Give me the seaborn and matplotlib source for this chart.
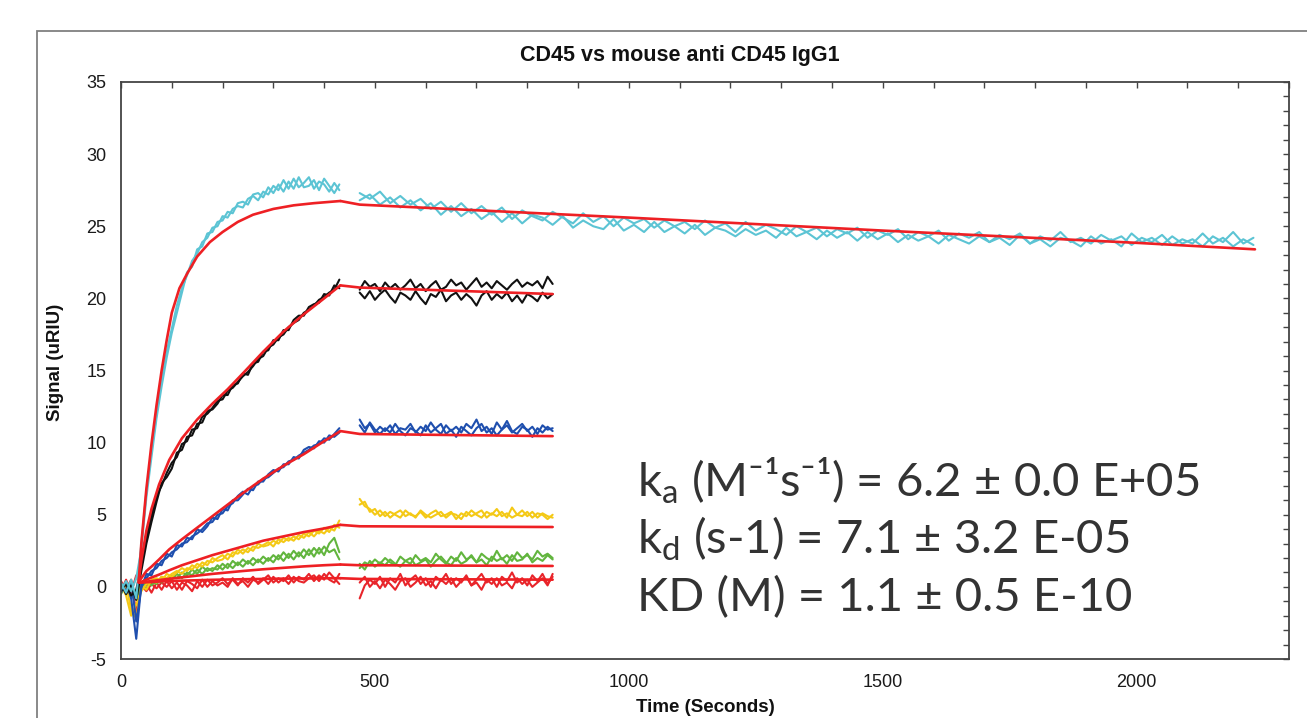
import numpy as np
import matplotlib
matplotlib.use("Agg")
import matplotlib.pyplot as plt
from matplotlib.patches import Rectangle
from matplotlib.ticker import MultipleLocator
import seaborn as sns

# ------------------------------------------------------------
# sampling times (seconds)
# ------------------------------------------------------------
t_assoc = np.arange(0, 431, 10)        # association phase
t_dissoc = np.arange(470, 851, 10)     # dissociation phase (short runs)
t_dissoc_long = np.arange(470, 2231, 20)  # dissociation phase (cyan run)

# ------------------------------------------------------------
# measured traces, two replicates per concentration
# ------------------------------------------------------------
cyan_assoc_a = [0.3, -0.4, 0.5, -0.8, 3.0, 6.6, 9.4, 12.0, 14.3, 16.3, 17.9,
                19.5, 20.7, 21.6, 22.6, 23.1, 23.9, 24.2, 24.9, 25.0, 25.7, 25.6,
                26.2, 26.4, 26.3, 26.9, 27.1, 26.8, 27.4, 27.2, 27.8, 27.5, 28.2,
                27.6, 28.3, 27.7, 28.0, 28.4, 27.6, 28.1, 27.9, 27.4, 28.0, 27.5]
cyan_assoc_b = [-0.2, 0.4, -0.3, 0.6, 2.6, 6.2, 9.0, 11.7, 13.9, 15.9, 17.6,
                19.0, 20.4, 21.8, 22.2, 23.4, 23.6, 24.5, 24.6, 25.3, 25.4, 26.0,
                25.9, 26.6, 26.7, 26.5, 27.2, 27.3, 27.0, 27.7, 27.3, 27.9, 27.4,
                28.1, 27.6, 28.4, 27.7, 27.8, 28.2, 27.5, 28.3, 27.8, 27.3, 27.9]
cyan_dissoc_a = [27.3, 26.9, 27.4, 26.6, 27.1, 26.5, 26.9, 26.2, 26.7, 26.0,
                 26.6, 25.9, 26.4, 25.8, 26.3, 25.5, 26.1, 25.7, 25.4, 26.0,
                 25.6, 25.2, 25.9, 25.3, 25.7, 25.0, 25.6, 25.2, 25.5, 24.9,
                 25.4, 25.0, 25.3, 24.8, 25.4, 24.9, 25.2, 24.6, 25.3, 24.7,
                 25.1, 24.8, 24.4, 25.0, 24.6, 24.9, 24.3, 24.8, 24.5, 24.9,
                 24.2, 24.7, 24.4, 24.8, 24.1, 24.6, 24.3, 24.7, 24.0, 24.5,
                 24.2, 24.6, 23.9, 24.4, 24.1, 24.5, 23.8, 24.3, 24.0, 24.6,
                 23.9, 24.2, 23.8, 24.4, 24.0, 24.3, 23.7, 24.2, 23.9, 24.4,
                 23.7, 24.1, 23.8, 24.5, 23.8, 24.2, 23.6, 24.1, 23.7]
cyan_dissoc_b = [26.8, 27.2, 26.5, 27.0, 26.3, 26.8, 26.1, 26.6, 25.8, 26.4,
                 25.7, 26.2, 25.5, 26.0, 25.3, 25.9, 25.2, 25.8, 25.6, 25.1,
                 25.7, 24.9, 25.4, 25.0, 24.8, 25.5, 24.7, 25.1, 24.6, 25.3,
                 24.6, 25.0, 24.5, 25.1, 24.4, 24.9, 24.7, 24.3, 24.8, 24.4,
                 24.7, 24.2, 24.9, 24.3, 24.6, 24.1, 24.7, 24.2, 24.6, 24.0,
                 24.6, 24.1, 24.5, 23.9, 24.4, 24.0, 24.3, 23.8, 24.4, 24.1,
                 23.8, 24.3, 23.9, 24.2, 23.7, 24.4, 23.8, 24.1, 23.6, 24.2,
                 24.0, 23.6, 24.3, 23.8, 24.1, 23.6, 24.5, 23.9, 24.2, 23.7,
                 24.3, 23.8, 24.1, 23.6, 24.3, 23.9, 24.6, 23.8, 24.2]

black_assoc_a = [-0.3, 0.2, -0.6, -0.2, 1.4, 3.4, 4.9, 6.3, 7.0, 7.9, 8.6,
                 9.0, 9.9, 10.1, 10.9, 11.0, 11.8, 12.0, 12.4, 12.9, 13.0, 13.6,
                 13.8, 14.2, 14.6, 14.9, 15.3, 15.8, 16.0, 16.6, 16.8, 17.3, 17.5,
                 18.0, 18.3, 18.5, 19.0, 19.2, 19.5, 19.9, 20.1, 20.4, 20.6, 21.3]
black_assoc_b = [0.2, -0.5, 0.1, -0.9, 1.1, 3.0, 4.5, 5.9, 7.2, 7.6, 8.2,
                 9.3, 9.5, 10.4, 10.5, 11.3, 11.4, 12.2, 12.3, 12.7, 13.3, 13.3,
                 14.0, 14.1, 14.8, 14.7, 15.5, 15.6, 16.3, 16.4, 17.1, 17.1, 17.8,
                 17.8, 18.5, 18.8, 18.8, 19.4, 19.6, 19.7, 20.3, 20.2, 20.9, 20.7]
black_dissoc_a = [20.6, 21.2, 20.8, 21.0, 20.5, 21.1, 20.7, 21.0, 20.6, 20.9,
                  21.3, 20.7, 21.0, 20.5, 20.9, 21.2, 20.6, 20.8, 21.3, 20.9,
                  21.1, 20.6, 21.0, 21.4, 20.8, 21.1, 20.7, 21.2, 20.9, 20.6,
                  21.0, 21.3, 20.8, 21.1, 20.9, 21.2, 20.7, 21.5, 21.0]
black_dissoc_b = [20.4, 20.0, 20.5, 19.9, 20.3, 20.6, 20.1, 19.7, 20.4, 20.2,
                  19.9, 20.5, 20.0, 19.6, 20.3, 20.1, 20.6, 19.8, 20.2, 20.4,
                  19.9, 20.3, 20.0, 19.5, 20.2, 20.5, 19.9, 20.3, 20.0, 20.4,
                  19.8, 20.2, 19.7, 20.3, 20.1, 19.8, 20.4, 20.0, 20.3]

blue_assoc_a = [-0.4, 0.3, -0.8, -3.6, 0.2, 0.6, 1.1, 1.3, 1.8, 2.0, 2.4,
                2.6, 3.0, 3.1, 3.5, 3.7, 4.0, 4.4, 4.5, 5.0, 5.1, 5.6,
                5.8, 6.3, 6.6, 6.4, 7.0, 7.1, 7.5, 7.6, 7.9, 8.2, 8.3,
                8.7, 8.8, 9.1, 9.3, 9.5, 9.8, 9.9, 10.3, 10.2, 10.6, 11.0]
blue_assoc_b = [0.2, -0.3, 0.4, -2.4, -0.1, 0.9, 0.8, 1.6, 1.5, 2.3, 2.1,
                2.9, 2.8, 3.4, 3.3, 4.0, 3.8, 4.2, 4.8, 4.7, 5.4, 5.3,
                6.0, 6.0, 6.4, 6.8, 6.7, 7.3, 7.3, 7.8, 8.1, 8.0, 8.5,
                8.5, 9.0, 8.9, 9.5, 9.7, 9.6, 10.1, 10.0, 10.5, 10.4, 10.7]
blue_dissoc_a = [11.6, 11.0, 11.3, 10.7, 11.1, 10.8, 11.2, 10.6, 11.0, 10.9,
                 11.3, 10.7, 11.1, 10.8, 11.4, 10.9, 10.6, 11.2, 10.8, 11.1,
                 10.7, 11.3, 11.0, 11.6, 10.8, 11.1, 10.6, 11.4, 10.9, 11.2,
                 10.7, 11.0, 11.3, 10.8, 11.1, 10.6, 11.2, 10.9, 11.0]
blue_dissoc_b = [11.2, 10.7, 11.4, 10.9, 10.6, 11.0, 10.7, 11.3, 10.8, 10.5,
                 11.0, 10.8, 10.5, 11.2, 10.7, 11.0, 11.3, 10.6, 10.9, 10.4,
                 11.1, 10.8, 10.5, 11.0, 11.3, 10.7, 11.0, 10.5, 10.9, 11.5,
                 10.8, 10.6, 11.1, 10.9, 10.4, 11.0, 10.7, 11.1, 10.8]

yellow_assoc_a = [0.1, -0.6, -2.0, -1.2, -0.3, 0.2, 0.4, 0.3, 0.7, 0.6, 0.9,
                  1.1, 0.9, 1.3, 1.2, 1.6, 1.4, 1.8, 1.7, 2.0, 2.2, 1.9,
                  2.4, 2.3, 2.6, 2.4, 2.8, 2.7, 2.9, 3.1, 2.8, 3.3, 3.1,
                  3.4, 3.2, 3.6, 3.4, 3.8, 3.5, 3.9, 3.7, 4.1, 3.9, 4.6]
yellow_assoc_b = [-0.3, 0.2, -1.6, -2.2, 0.1, -0.2, 0.5, 0.6, 0.4, 0.9, 0.7,
                  1.0, 1.3, 1.1, 1.5, 1.3, 1.7, 1.5, 2.0, 1.8, 1.9, 2.3,
                  2.1, 2.6, 2.3, 2.7, 2.5, 3.0, 2.8, 2.9, 3.2, 3.0, 3.4,
                  3.2, 3.5, 3.3, 3.7, 3.5, 3.9, 3.7, 4.1, 3.8, 4.3, 4.1]
yellow_dissoc_a = [6.1, 5.6, 5.4, 5.0, 5.3, 4.9, 5.2, 5.0, 4.8, 5.3,
                   5.0, 4.9, 5.2, 4.8, 5.1, 5.3, 4.9, 5.0, 5.2, 4.7,
                   5.1, 4.9, 5.3, 5.0, 4.8, 5.2, 5.0, 5.4, 4.9, 5.1,
                   4.8, 5.0, 5.3, 4.9, 5.2, 4.8, 5.1, 4.9, 4.8]
yellow_dissoc_b = [5.7, 5.9, 5.2, 5.4, 4.9, 5.2, 4.8, 5.1, 5.3, 4.9,
                   5.1, 4.8, 5.3, 5.0, 4.8, 5.0, 5.2, 4.8, 5.1, 5.0,
                   4.7, 5.2, 4.9, 5.1, 5.3, 4.8, 5.1, 4.9, 5.2, 4.8,
                   5.5, 5.0, 4.9, 5.2, 4.8, 5.1, 5.0, 4.7, 5.0]

green_assoc_a = [-0.5, 0.2, -0.8, -0.4, 0.0, 0.3, 0.1, 0.5, 0.3, 0.6, 0.5,
                 0.9, 0.6, 1.0, 0.8, 1.2, 0.9, 1.3, 1.1, 1.5, 1.2, 1.6,
                 1.3, 1.7, 1.4, 1.8, 1.5, 1.9, 1.6, 2.0, 1.7, 2.2, 1.8,
                 2.3, 1.9, 2.4, 2.0, 2.6, 2.1, 2.7, 2.2, 3.0, 3.4, 2.4]
green_assoc_b = [0.1, -0.4, 0.3, -0.9, 0.2, -0.1, 0.4, 0.2, 0.7, 0.4, 0.8,
                 0.6, 1.0, 0.8, 1.2, 0.9, 1.4, 1.1, 1.3, 1.2, 1.6, 1.3,
                 1.8, 1.5, 1.9, 1.6, 2.0, 1.7, 2.1, 1.8, 2.2, 1.9, 2.4,
                 2.0, 2.5, 2.1, 2.6, 2.2, 2.7, 2.3, 2.8, 2.4, 2.6, 1.9]
green_dissoc_a = [1.3, 1.7, 1.5, 1.9, 1.6, 2.0, 1.7, 1.5, 2.1, 1.8,
                  1.6, 2.2, 1.8, 2.0, 1.7, 2.3, 1.9, 1.6, 2.1, 1.8,
                  2.4, 1.9, 2.1, 1.7, 2.3, 2.0, 1.8, 2.5, 1.9, 2.2,
                  1.8, 2.4, 2.0, 2.2, 1.9, 2.5, 2.1, 2.3, 2.0]
green_dissoc_b = [1.6, 1.2, 1.8, 1.4, 1.7, 1.5, 1.9, 1.6, 1.4, 1.8,
                  2.0, 1.5, 1.7, 1.9, 1.4, 1.8, 2.1, 1.7, 1.5, 2.0,
                  1.6, 1.8, 2.2, 1.7, 1.9, 1.5, 2.1, 1.8, 2.0, 1.6,
                  2.2, 1.8, 1.9, 2.3, 1.7, 2.0, 1.8, 2.2, 1.9]

red_assoc_a = [0.4, -0.2, 0.5, -1.8, 0.1, -0.3, 0.2, -0.1, 0.3, 0.0, 0.4,
               -0.2, 0.3, 0.1, -0.3, 0.4, 0.0, 0.5, 0.1, 0.3, 0.6, 0.2,
               0.5, 0.1, 0.6, 0.3, 0.7, 0.2, 0.5, 0.8, 0.3, 0.6, 0.4,
               0.8, 0.3, 0.7, 0.5, 0.9, 0.4, 0.8, 0.5, 1.0, 0.6, 0.2]
red_assoc_b = [-0.3, 0.5, -0.4, 0.8, -0.2, 0.2, -0.4, 0.3, -0.2, 0.4, -0.1,
               0.3, -0.2, 0.4, 0.2, -0.1, 0.5, 0.0, 0.4, 0.1, 0.3, 0.0,
               0.6, 0.2, 0.4, 0.0, 0.5, 0.3, 0.6, 0.2, 0.7, 0.3, 0.6,
               0.2, 0.7, 0.4, 0.3, 0.6, 0.8, 0.4, 0.9, 0.5, 0.3, 0.9]
red_dissoc_a = [-0.8, 0.1, 0.5, 0.2, 0.7, 0.0, 0.6, 0.3, 0.9, 0.1,
                0.5, 0.8, 0.2, 0.6, 0.0, 0.7, 0.4, 0.9, 0.2, 0.6,
                0.3, 0.8, 0.1, 0.5, 0.9, 0.3, 0.6, 0.0, 0.7, 0.4,
                1.0, 0.3, 0.6, 0.1, 0.8, 0.4, 0.9, 0.2, 0.7]
red_dissoc_b = [0.3, 0.7, 0.0, 0.4, -0.1, 0.5, 0.2, -0.2, 0.4, 0.6,
                0.0, 0.3, 0.7, 0.1, 0.4, -0.1, 0.5, 0.2, 0.6, 0.0,
                0.4, 0.7, 0.1, 0.3, -0.2, 0.5, 0.2, 0.6, 0.1, 0.3,
                -0.1, 0.6, 0.2, 0.5, 0.0, 0.3, 0.6, 0.1, 0.9]

# ------------------------------------------------------------
# global fit curves
# ------------------------------------------------------------
fit_t_cyan = [35, 40, 50, 60, 70, 80, 90, 100, 115, 130, 150, 175, 200, 230, 260, 300, 340, 380, 432]
fit_cyan_assoc = [0.4, 3.0, 6.8, 9.9, 12.6, 15.0, 17.1, 19.0, 20.7, 21.7, 22.9, 23.9, 24.6,
                  25.3, 25.8, 26.2, 26.45, 26.6, 26.75]
fit_t_assoc = [35, 40, 50, 60, 75, 95, 120, 150, 180, 210, 240, 280, 320, 360, 400, 432]
fit_black_assoc = [0.4, 1.8, 3.9, 5.4, 7.1, 8.8, 10.3, 11.6, 12.7, 13.7, 14.8, 16.3, 17.7, 18.9, 20.0, 20.9]
fit_blue_assoc = [0.35, 0.6, 1.1, 1.4, 1.9, 2.6, 3.3, 4.1, 4.9, 5.7, 6.5, 7.5, 8.4, 9.2, 10.1, 10.8]
fit_yellow_assoc = [0.3, 0.35, 0.5, 0.65, 0.85, 1.15, 1.5, 1.85, 2.2, 2.5, 2.8, 3.2, 3.5, 3.8, 4.05, 4.3]
fit_green_assoc = [0.3, 0.32, 0.36, 0.4, 0.47, 0.56, 0.66, 0.78, 0.9, 1.0, 1.1, 1.22, 1.32, 1.42, 1.5, 1.55]
fit_red_assoc = [0.3, 0.3, 0.32, 0.34, 0.37, 0.4, 0.43, 0.46, 0.49, 0.51, 0.53, 0.55, 0.57, 0.58, 0.6, 0.6]

fit_t_dissoc = [432, 470, 850]
fit_black_dissoc = [20.9, 20.75, 20.3]
fit_blue_dissoc = [10.8, 10.6, 10.45]
fit_yellow_dissoc = [4.3, 4.2, 4.15]
fit_green_dissoc = [1.55, 1.5, 1.45]
fit_red_dissoc = [0.6, 0.55, 0.5]
fit_t_dissoc_long = [432, 470, 1000, 1500, 2000, 2233]
fit_cyan_dissoc = [26.75, 26.5, 25.6, 24.7, 23.85, 23.4]

# ------------------------------------------------------------
# style
# ------------------------------------------------------------
sns.set_style("white")
plt.rcParams['font.family'] = ['Liberation Sans', 'DejaVu Sans']
plt.rcParams['mathtext.default'] = 'regular'
plt.rcParams['axes.unicode_minus'] = False

c_cyan = '#5cc4d4'
c_black = '#111111'
c_blue = '#1f4fae'
c_yellow = '#f4c916'
c_green = '#62b53e'
c_red = '#e8252b'
c_fit = '#ee2024'
axis_col = '#444444'
lw_data = 1.5
lw_fit = 1.9

fig = plt.figure(figsize=(13.07, 7.18), dpi=100)
ax = fig.add_axes([121 / 1307, 1 - 659 / 718, (1289 - 121) / 1307, (659 - 82) / 718])

# outer panel frame (screenshot border)
fig.add_artist(Rectangle((37 / 1307, -0.2), 1.3, 1.2 - 31 / 718, transform=fig.transFigure,
                         fill=False, edgecolor='#808080', linewidth=1.3))

traces = [
    (c_red, red_assoc_a, red_assoc_b, red_dissoc_a, red_dissoc_b),
    (c_green, green_assoc_a, green_assoc_b, green_dissoc_a, green_dissoc_b),
    (c_yellow, yellow_assoc_a, yellow_assoc_b, yellow_dissoc_a, yellow_dissoc_b),
    (c_blue, blue_assoc_a, blue_assoc_b, blue_dissoc_a, blue_dissoc_b),
    (c_black, black_assoc_a, black_assoc_b, black_dissoc_a, black_dissoc_b),
]
for col, aa, ab, da, db in traces:
    for y in (aa, ab):
        sns.lineplot(x=t_assoc, y=y, ax=ax, color=col, lw=lw_data, estimator=None, sort=False)
    for y in (da, db):
        sns.lineplot(x=t_dissoc, y=y, ax=ax, color=col, lw=lw_data, estimator=None, sort=False)

for y in (cyan_assoc_a, cyan_assoc_b):
    sns.lineplot(x=t_assoc, y=y, ax=ax, color=c_cyan, lw=lw_data, estimator=None, sort=False)
for y in (cyan_dissoc_a, cyan_dissoc_b):
    sns.lineplot(x=t_dissoc_long, y=y, ax=ax, color=c_cyan, lw=lw_data, estimator=None, sort=False)

# fits
for fa, fd in [(fit_red_assoc, fit_red_dissoc), (fit_green_assoc, fit_green_dissoc),
               (fit_yellow_assoc, fit_yellow_dissoc), (fit_blue_assoc, fit_blue_dissoc),
               (fit_black_assoc, fit_black_dissoc)]:
    sns.lineplot(x=fit_t_assoc, y=fa, ax=ax, color=c_fit, lw=lw_fit, estimator=None, sort=False)
    sns.lineplot(x=fit_t_dissoc, y=fd, ax=ax, color=c_fit, lw=lw_fit, estimator=None, sort=False)
sns.lineplot(x=fit_t_cyan, y=fit_cyan_assoc, ax=ax, color=c_fit, lw=lw_fit, estimator=None, sort=False)
sns.lineplot(x=fit_t_dissoc_long, y=fit_cyan_dissoc, ax=ax, color=c_fit, lw=lw_fit, estimator=None, sort=False)

ax.set_xlim(0, 2300)
ax.set_ylim(-5, 35)
ax.xaxis.set_major_locator(MultipleLocator(500))
ax.xaxis.set_minor_locator(MultipleLocator(100))
ax.yaxis.set_major_locator(MultipleLocator(5))
ax.yaxis.set_minor_locator(MultipleLocator(1))
ax.tick_params(which='major', direction='inout', length=9, width=1.1, color=axis_col,
               labelsize=13, labelcolor='#1a1a1a', pad=6)
ax.tick_params(which='minor', direction='inout', length=6, width=1.0, color=axis_col)
ax.set_xlabel('')
ax.set_ylabel('')
for s in ax.spines.values():
    s.set_color(axis_col)
    s.set_linewidth(1.3)

# small inward ticks on top and right spines
top = ax.secondary_xaxis('top')
top.xaxis.set_major_locator(MultipleLocator(500))
top.xaxis.set_minor_locator(MultipleLocator(100))
top.tick_params(which='both', direction='in', length=4, width=1.0, color=axis_col, labeltop=False)
right = ax.secondary_yaxis('right')
right.yaxis.set_major_locator(MultipleLocator(5))
right.yaxis.set_minor_locator(MultipleLocator(1))
right.tick_params(which='both', direction='in', length=4, width=1.0, color=axis_col, labelright=False)
for sec in (top, right):
    for s in sec.spines.values():
        s.set_visible(False)

fig.text(680 / 1307, 1 - 55 / 718, 'CD45 vs mouse anti CD45 IgG1', ha='center', va='center',
         fontsize=15.5, fontweight='bold', color='#111111')
fig.text(56 / 1307, 1 - 362 / 718, 'Signal (uRIU)', rotation=90, ha='center', va='center',
         fontsize=13.5, fontweight='bold', color='#111111')
fig.text(705 / 1307, 2 / 718, 'Time (Seconds)', ha='center', va='bottom',
         fontsize=13.5, fontweight='bold', color='#111111')

# kinetic constants
stats_lines = ['k$_{a}$ (M\u207b\u00b9s\u207b\u00b9) = 6.2 \u00b1 0.0 E+05',
               'k$_{d}$ (s-1) = 7.1 \u00b1 3.2 E-05',
               'KD (M) = 1.1 \u00b1 0.5 E-10']
for i, line in enumerate(stats_lines):
    fig.text(637 / 1307, 1 - (497 + 57 * i) / 718, line, ha='left', va='baseline',
             fontsize=34, family=['Lato', 'DejaVu Sans'], color='#333333')

fig.savefig('out.png', dpi=100)
